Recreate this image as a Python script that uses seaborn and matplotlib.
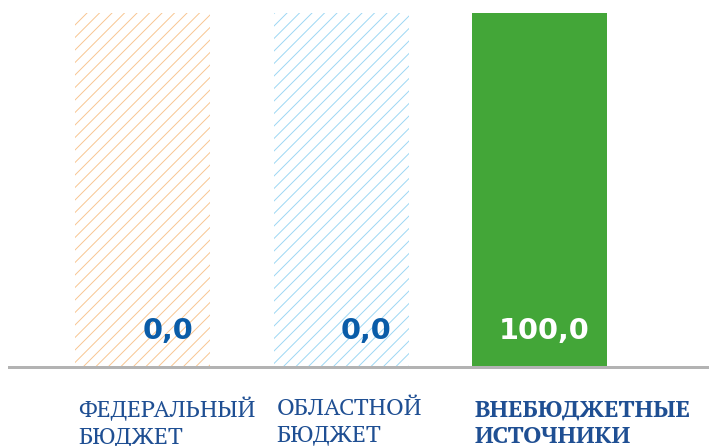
import matplotlib
matplotlib.use("Agg")
import matplotlib.pyplot as plt
import seaborn as sns
import pandas as pd

# Funding structure, percent of total
categories = ["ФЕДЕРАЛЬНЫЙ\nБЮДЖЕТ", "ОБЛАСТНОЙ\nБЮДЖЕТ", "ВНЕБЮДЖЕТНЫЕ\nИСТОЧНИКИ"]
shares = [0.0, 0.0, 100.0]
value_labels = ["0,0", "0,0", "100,0"]
full_scale = 100.0

fill_colors = ["#f8c48f", "#9ad6f3", "#43a638"]
hatch_colors = ["#f8c48f", "#9ad6f3", "none"]
value_colors = ["#0a5ca8", "#0a5ca8", "#ffffff"]
name_weights = ["normal", "normal", "bold"]
name_color = "#1f4f93"

sns.set_theme(style="white")
plt.rcParams["hatch.linewidth"] = 0.9

DPI = 75
W, H = 709, 446
PT = 72 / DPI  # points per pixel

fig = plt.figure(figsize=(W / DPI, H / DPI), dpi=DPI)
ax = fig.add_axes([9 / W, (H - 367) / H, 700 / W, (367 - 13) / H])

df = pd.DataFrame({
    "category": categories,
    "share": shares,
    "scale": [full_scale] * len(categories),
})

# Hatched backdrop showing the full 100 % scale
sns.barplot(data=df, x="category", y="scale", hue="category",
            palette=fill_colors, saturation=1, width=0.681,
            legend=False, ax=ax)
for patch, hc in zip(ax.patches, hatch_colors):
    patch.set_facecolor("none")
    patch.set_edgecolor(hc)
    patch.set_hatch("//" if hc != "none" else None)
    patch.set_linewidth(0)
n_backdrop = len(ax.patches)

# Actual shares
sns.barplot(data=df, x="category", y="share", hue="category",
            palette=fill_colors, saturation=1, width=0.681,
            legend=False, linewidth=0, ax=ax)
bars = ax.patches[n_backdrop:]

for bar, text, col, name, weight in zip(bars, value_labels, value_colors,
                                        categories, name_weights):
    right = bar.get_x() + bar.get_width()
    left = bar.get_x()
    ax.annotate(text, xy=(right, 0), xytext=(-17 * PT, 28 * PT),
                textcoords="offset points", ha="right", va="baseline",
                fontsize=28.8 * PT, fontweight="bold", color=col,
                family="DejaVu Sans", annotation_clip=False)
    ax.annotate(name, xy=(left, 0), xytext=(3 * PT, -31 * PT),
                textcoords="offset points", ha="left", va="top",
                fontsize=24 * PT, fontweight=weight, color=name_color,
                family=["PT Serif", "DejaVu Serif"], linespacing=1.22,
                annotation_clip=False)

ax.set_xlim(-0.6747, 2.856)
ax.set_ylim(0, full_scale)
ax.set_xticks([])
ax.set_yticks([])
ax.set_xlabel("")
ax.set_ylabel("")
for side in ("top", "left", "right"):
    ax.spines[side].set_visible(False)
ax.spines["bottom"].set_color("#b3b3b3")
ax.spines["bottom"].set_linewidth(3 * PT)

fig.savefig("out.png", dpi=DPI)
